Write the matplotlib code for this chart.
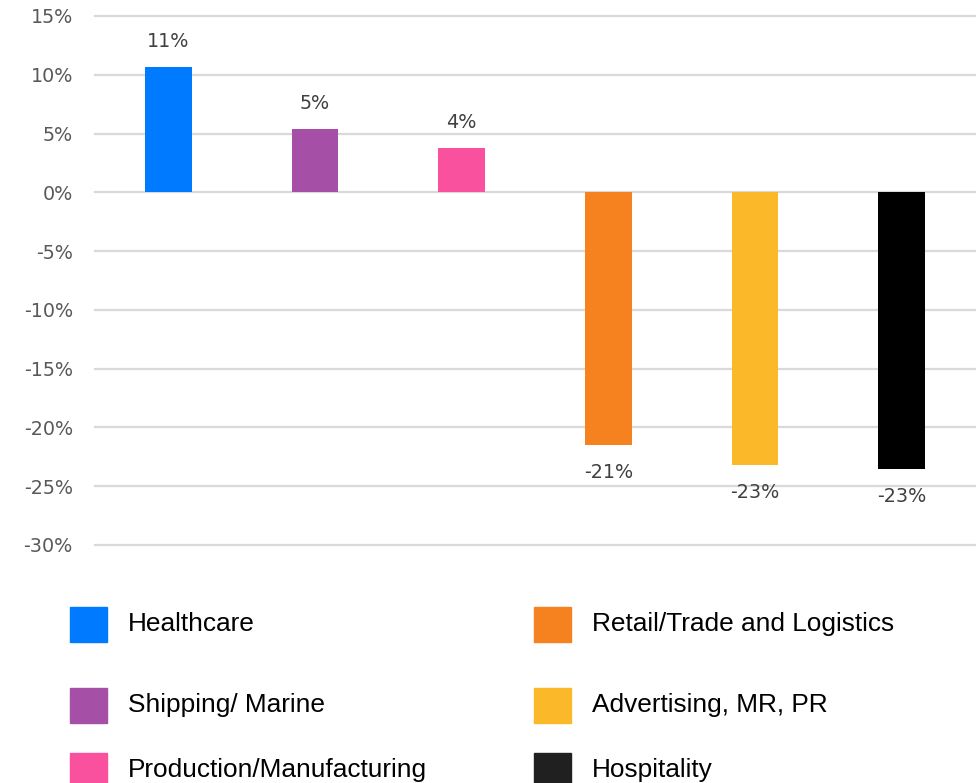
import matplotlib
matplotlib.use("Agg")
import matplotlib.pyplot as plt
from matplotlib.patches import Rectangle

categories = ["Healthcare", "Shipping/ Marine", "Production/Manufacturing",
              "Retail/Trade and Logistics", "Advertising, MR, PR", "Hospitality"]
values = [10.7, 5.4, 3.8, -21.5, -23.2, -23.5]
labels = ["11%", "5%", "4%", "-21%", "-23%", "-23%"]
colors = ["#007AFF", "#A64FA6", "#FA519E", "#F5821F", "#FBB829", "#000000"]
legend_colors = ["#007AFF", "#A64FA6", "#FA519E", "#F5821F", "#FBB829", "#202020"]
yticks = [15, 10, 5, 0, -5, -10, -15, -20, -25, -30]

W, H = 980, 783
fig = plt.figure(figsize=(W / 100, H / 100), dpi=100)
ax = fig.add_axes([95 / W, 1 - 545 / H, (975 - 95) / W, (545 - 16) / H])

x = list(range(len(categories)))
ax.bar(x, values, width=0.32, color=colors, zorder=3)
ax.set_xlim(-0.5, len(categories) - 0.5)
ax.set_ylim(-30, 15)
ax.set_yticks(yticks)
ax.set_yticklabels([f"{t}%" for t in yticks], fontsize=13.8, color="#595959")
ax.tick_params(axis="y", length=0, pad=16)
ax.set_xticks([])
for s in ax.spines.values():
    s.set_visible(False)
ax.grid(axis="y", color="#D9D9D9", linewidth=1.6, zorder=0)
for gl in ax.get_ygridlines():
    gl.set_clip_on(False)

for xi, v, lab in zip(x, values, labels):
    off = 18 if v >= 0 else -20
    ax.annotate(lab, (xi, v), xytext=(0, off), textcoords="offset points",
                ha="center", va="center", fontsize=13.8, color="#404040")

# legend: column-wise, 3 rows x 2 cols
col_x = [70, 534]
row_y = [624, 705, 770]
for i, (name, c) in enumerate(zip(categories, legend_colors)):
    col, row = divmod(i, 3)
    sx, sy = col_x[col], row_y[row]
    fig.add_artist(Rectangle((sx / W, 1 - (sy + 17.5) / H), 37 / W, 35 / H,
                             transform=fig.transFigure, color=c, clip_on=False))
    fig.text((sx + 58) / W, 1 - sy / H, name, ha="left", va="center",
             fontsize=18.9, color="black", family="Liberation Sans")

fig.savefig("out.png", dpi=100)
